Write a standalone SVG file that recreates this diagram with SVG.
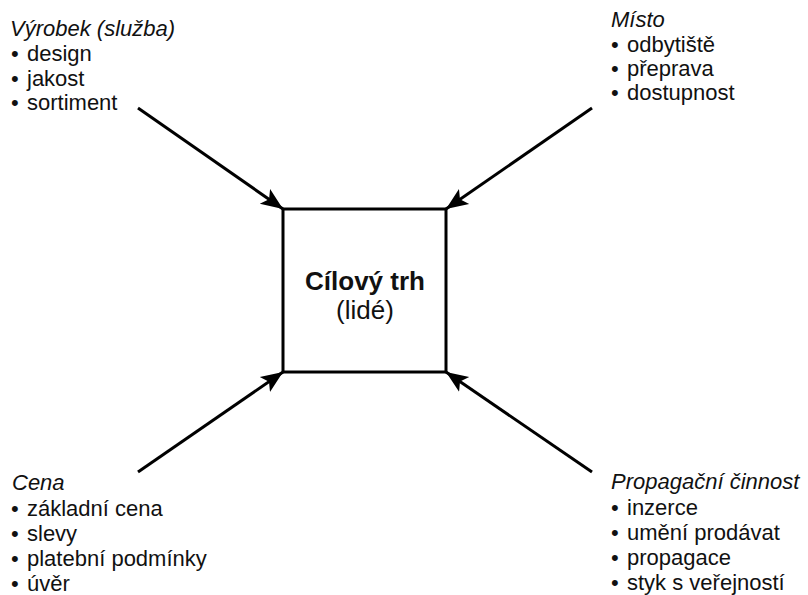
<svg xmlns="http://www.w3.org/2000/svg" width="808" height="595" viewBox="0 0 808 595">
<style>
text{font-family:"Liberation Sans",Arial,sans-serif;fill:#111;font-size:22px}
.h{font-style:italic}
.c{font-size:26px;text-anchor:middle}
.b{font-weight:bold}
.ln{stroke:#000;stroke-width:3;fill:none;marker-end:url(#ah)}
</style>
<defs>
<marker id="ah" markerUnits="userSpaceOnUse" markerWidth="24" markerHeight="20" refX="22" refY="9" orient="auto" viewBox="0 0 24 18">
<path d="M0,0 L22,9 L0,18 L5,9 Z" fill="#000"/>
</marker>
</defs>
<rect width="808" height="595" fill="#fff"/>
<g id="connectors">
<line class="ln" x1="138" y1="108" x2="283" y2="209"/>
<line class="ln" x1="592" y1="108" x2="446" y2="209"/>
<line class="ln" x1="138" y1="472" x2="283" y2="372"/>
<line class="ln" x1="592" y1="472" x2="446" y2="372"/>
</g>
<g id="target">
<rect x="283" y="209" width="163" height="163" fill="#fff" stroke="#000" stroke-width="3"/>
<text class="c b" x="365" y="290">Cílový trh</text>
<text class="c" x="365" y="319">(lidé)</text>
</g>
<g id="product">
<text class="h" x="10" y="36">Výrobek (služba)</text>
<text x="11" y="61">•</text><text x="27" y="61">design</text>
<text x="11" y="86">•</text><text x="27" y="86">jakost</text>
<text x="11" y="110">•</text><text x="27" y="110">sortiment</text>
</g>
<g id="place">
<text class="h" x="611" y="27">Místo</text>
<text x="611" y="52">•</text><text x="627" y="52">odbytiště</text>
<text x="611" y="76">•</text><text x="627" y="76">přeprava</text>
<text x="611" y="100">•</text><text x="627" y="100">dostupnost</text>
</g>
<g id="price">
<text class="h" x="12" y="490">Cena</text>
<text x="11" y="516">•</text><text x="27" y="516">základní cena</text>
<text x="11" y="541">•</text><text x="27" y="541">slevy</text>
<text x="11" y="566">•</text><text x="27" y="566">platební podmínky</text>
<text x="11" y="591">•</text><text x="27" y="591">úvěr</text>
</g>
<g id="promotion">
<text class="h" x="611" y="489">Propagační činnost</text>
<text x="611" y="515">•</text><text x="627" y="515">inzerce</text>
<text x="611" y="540">•</text><text x="627" y="540">umění prodávat</text>
<text x="611" y="565">•</text><text x="627" y="565">propagace</text>
<text x="611" y="590">•</text><text x="627" y="590">styk s veřejností</text>
</g>
</svg>
